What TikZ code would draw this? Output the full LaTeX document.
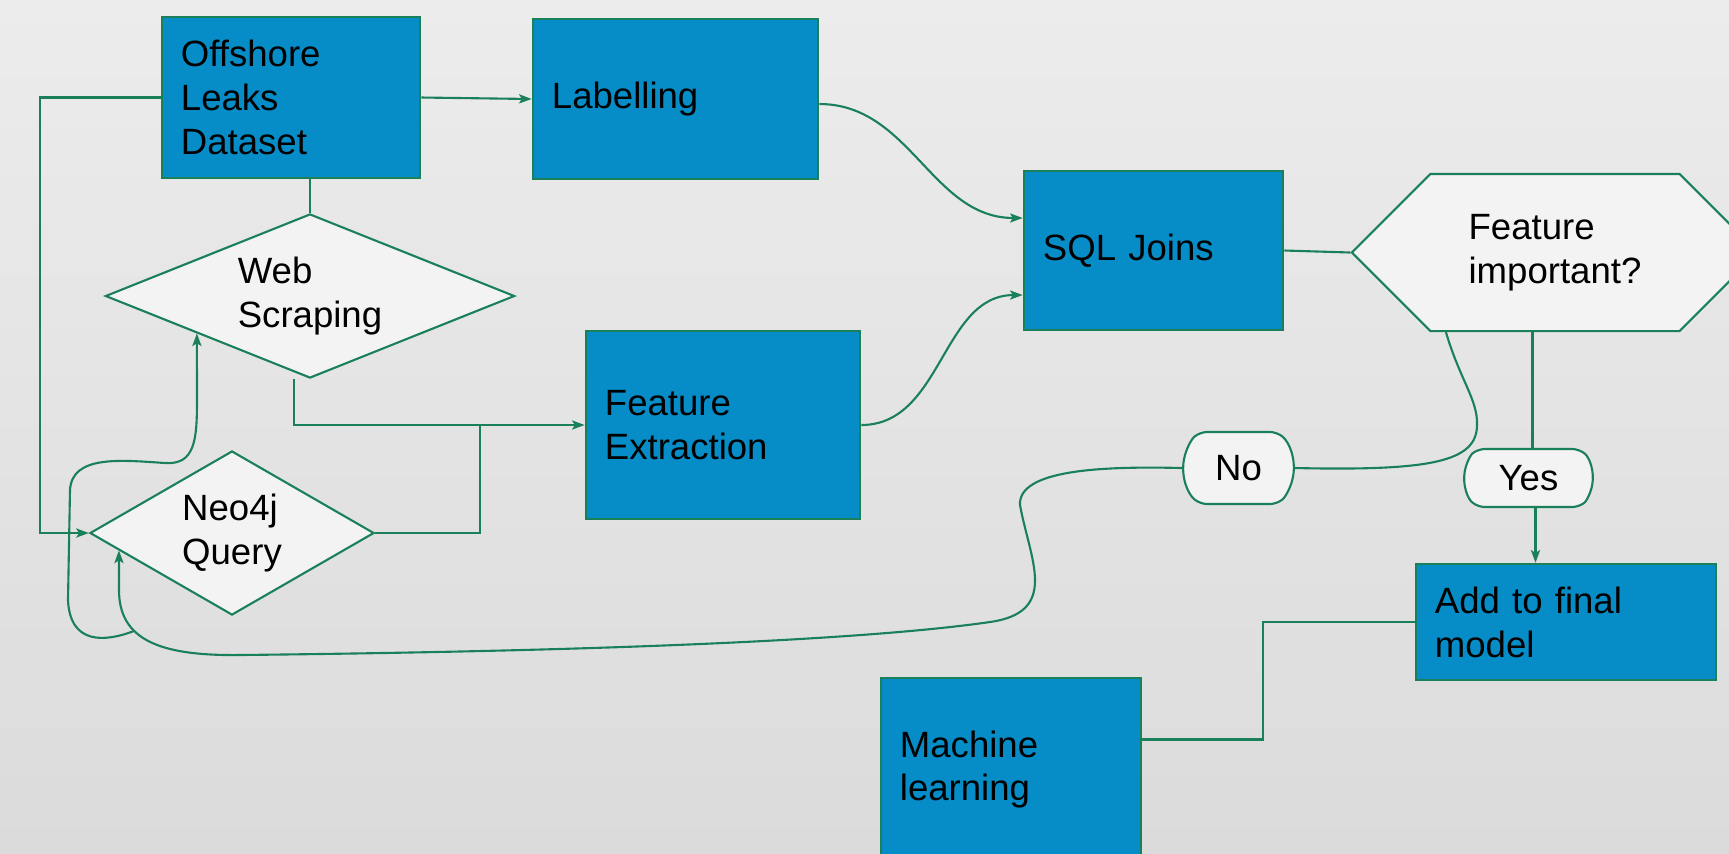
\documentclass[tikz,border=0pt]{standalone}
\usepackage{fontspec}
\setmainfont{Liberation Sans}
\usetikzlibrary{arrows.meta,shapes.geometric,shapes.symbols,shapes.misc,calc}
\definecolor{bgtop}{RGB}{236,236,236}
\definecolor{bgbottom}{RGB}{219,219,219}
\definecolor{boxblue}{RGB}{6,141,199}
\definecolor{linegreen}{RGB}{26,128,90}
\definecolor{palefill}{RGB}{243,243,243}

\begin{document}
\begin{tikzpicture}[x=0.01cm, y=-0.01cm]
\tikzset{edge/.style = {-, draw=linegreen, line width=0.6pt}}
\tikzset{arrowedge/.style = {edge, -{Stealth[length=3.6pt, width=2.6pt, inset=0.8pt]}}}
\tikzset{label font/.style = {font=\fontsize{10.4}{12.5}\selectfont}}
\tikzset{process/.style = {rectangle, draw=linegreen, fill=boxblue, line width=0.7pt, inner xsep=0.19cm, inner ysep=0pt, align=left, label font}}
\tikzset{decision/.style = {diamond, draw=linegreen, fill=palefill, line width=0.6pt, inner sep=0pt, align=left, label font}}
\tikzset{question/.style = {signal, signal to=west and east, signal pointer angle=90, draw=linegreen, fill=palefill, line width=0.6pt, align=left, label font}}
\tikzset{answer/.style = {rounded rectangle, rounded rectangle arc length=100, rounded corners=2pt, draw=linegreen, fill=palefill, line width=0.6pt, label font}}
\useasboundingbox (0,0) rectangle (1729,853);
\shade[top color=bgtop, bottom color=bgbottom] (0,0) rectangle (1729,853);
\node[process, text width=2.20cm, minimum height=1.61cm] (offshore) at (291,97.5) {Offshore\\Leaks\\Dataset};
\node[process, text width=2.47cm, minimum height=1.60cm] (labelling) at (675.5,99) {Labelling};
\node[decision, minimum width=4.09cm, minimum height=1.64cm, aspect=2.5] (scraping) at (310,296) {Web\\Scraping};
\node[decision, minimum width=2.84cm, minimum height=1.64cm, aspect=1.73] (neo) at (232,533) {Neo4j\\Query};
\node[process, text width=2.36cm, minimum height=1.88cm] (extraction) at (723,425) {Feature\\Extraction};
\node[process, text width=2.21cm, minimum height=1.59cm] (joins) at (1153.5,250.5) {SQL Joins};
\node[question, minimum width=4.06cm, minimum height=1.57cm] (important) at (1555,252.5) {Feature\\important?};
\node[answer, minimum width=1.34cm, minimum height=0.72cm] (no) at (1238.5,468) {No};
\node[answer, minimum width=1.52cm, minimum height=0.58cm] (yes) at (1528.5,478) {Yes};
\node[process, text width=2.62cm, minimum height=1.16cm] (final) at (1566,622) {Add to final\\model};
\node[process, text width=2.22cm, minimum height=1.83cm] (learning) at (1011,769.5) {Machine\\learning};
\coordinate (join) at (480,425);
\coordinate (split) at (134,631);
\draw[arrowedge] (offshore.east) to (labelling.west);
\draw[arrowedge] (offshore.west) -- ++(-121,0) |- (neo.west);
\draw[edge] (scraping.north) to (scraping.north |- offshore.south);
\draw[arrowedge] ([xshift=-0.16cm]scraping.south) |- (extraction.west);
\draw[edge] (neo.east) -| (join);
\draw[arrowedge] ([yshift=-0.05cm]labelling.east) to[out=0, in=180] ([yshift=0.325cm]joins.west);
\draw[arrowedge] (extraction.east) to[out=0, in=180] ([yshift=-0.445cm]joins.west);
\draw[edge] (joins.east) to (important.west);
\draw[edge] ([xshift=0.04cm]yes.north) to ([xshift=0.04cm]yes.north |- important.south);
\draw[arrowedge] ([xshift=0.07cm]yes.south) to ([xshift=0.07cm]yes.south |- final.north);
\draw[edge] ([xshift=-1.09cm]important.south) .. controls (1460,380) and (1478,400) .. (1477,425) .. controls (1477,462) and (1430,471) .. (no.east);
\draw[arrowedge] (no.west) .. controls (1100,466) and (1018,470) .. (1020,505) .. controls (1030,560) and (1060,612) .. (990,622) .. controls (900,635) and (700,650) .. (240,655) .. controls (160,656) and (119,640) .. (119,590) -- ($(neo.west)!0.21!(neo.south)$);
\draw[arrowedge] (split) .. controls (105,642) and (70,645) .. (68,600) -- (70,490) .. controls (72,455) and (120,460) .. (165,463) .. controls (195,465) and (197,440) .. (197,400) -- ($(scraping.west)!0.45!(scraping.south)$);
\draw[edge] ([yshift=0.3cm]learning.east) -- ++(121,0) |- (final.west);
\end{tikzpicture}
\end{document}
